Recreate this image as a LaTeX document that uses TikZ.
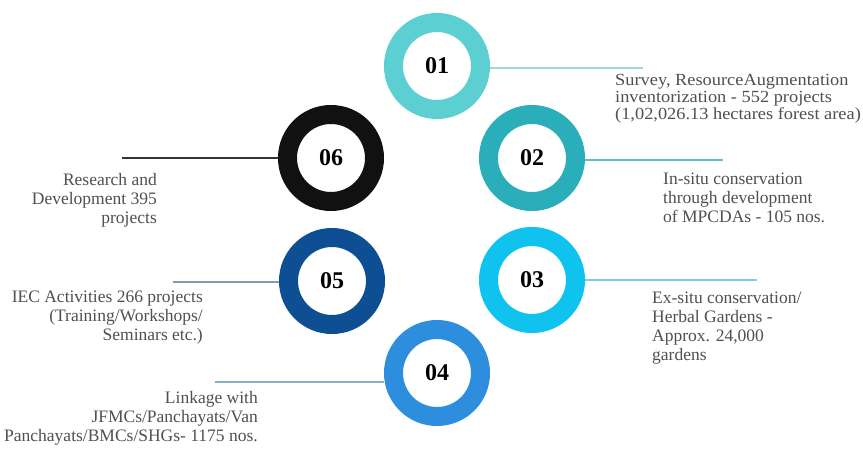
\documentclass[tikz,border=0pt]{standalone}
\usepackage{fontspec}
\setmainfont{Liberation Serif}
\newfontfamily\widefont[FakeStretch=1.08]{Liberation Serif}
\definecolor{c1}{HTML}{5CCFD3}
\definecolor{c2}{HTML}{2AAFBA}
\definecolor{c3}{HTML}{10C3EE}
\definecolor{c4}{HTML}{2C8EDC}
\definecolor{c5}{HTML}{0E4E93}
\definecolor{c6}{HTML}{111111}
\definecolor{l1}{HTML}{9FD8DC}
\definecolor{l2}{HTML}{5DBFC6}
\definecolor{l3}{HTML}{7FCCE0}
\definecolor{l4}{HTML}{8AAFC4}
\definecolor{l5}{HTML}{7F9CB5}
\definecolor{l6}{HTML}{333333}
\definecolor{txt}{HTML}{505050}
\begin{document}
\begin{tikzpicture}[x=1pt,y=-1pt,
  ring/.style={circle, draw=#1, line width=19pt, minimum size=87pt, inner sep=0pt, fill=white, font=\fontsize{24}{24}\selectfont\bfseries, text=black},
  lead/.style={draw=#1, line width=1.3pt},
  desc/.style={inner sep=0pt, text=txt, font=\fontsize{17.5}{19}\selectfont}]
\useasboundingbox[fill=white] (0,0) rectangle (863,449);
% rings
\node[ring=c1] (r1) at (437,66) {01};
\node[ring=c2] (r2) at (532,158) {02};
\node[ring=c3] (r3) at (532,280) {03};
\node[ring=c4] (r4) at (437,373) {04};
\node[ring=c5] (r5) at (332,281) {05};
\node[ring=c6] (r6) at (331,158) {06};
% leader ends
\coordinate (e1) at (643,68);
\coordinate (e2) at (723,160);
\coordinate (e3) at (757,280);
\coordinate (e4) at (215,382);
\coordinate (e5) at (173,282);
\coordinate (e6) at (122,158);
\draw[lead=l1] (r1.east |- e1) -- (e1);
\draw[lead=l2] (r2.east |- e2) -- (e2);
\draw[lead=l3] (r3.east |- e3) -- (e3);
\draw[lead=l4] (r4.west |- e4) -- (e4);
\draw[lead=l5] (r5.west |- e5) -- (e5);
\draw[lead=l6] (r6.west |- e6) -- (e6);
% descriptions
\node[desc, anchor=north west, align=left, font=\widefont\fontsize{17}{17}\selectfont] (t1) at (615,74)
  {Survey, ResourceAugmentation\\inventorization - 552 projects\\(1,02,026.13 hectares forest area)};
\node[desc, anchor=north west, align=left] (t2) at (663,173)
  {In-situ conservation\\through development\\of MPCDAs - 105 nos.};
\node[desc, anchor=north west, align=left] (t3) at (652,292)
  {Ex-situ conservation/\\Herbal Gardens -\\Approx. 24,000\\gardens};
\node[desc, anchor=north east, align=right] (t4) at (258,391)
  {Linkage with\\JFMCs/Panchayats/Van\\Panchayats/BMCs/SHGs- 1175 nos.};
\node[desc, anchor=north east, align=right] (t5) at (203,291)
  {IEC Activities 266 projects\\(Training/Workshops/\\Seminars etc.)};
\node[desc, anchor=north east, align=right] (t6) at (157,173)
  {Research and\\Development 395\\projects};
\end{tikzpicture}
\end{document}
